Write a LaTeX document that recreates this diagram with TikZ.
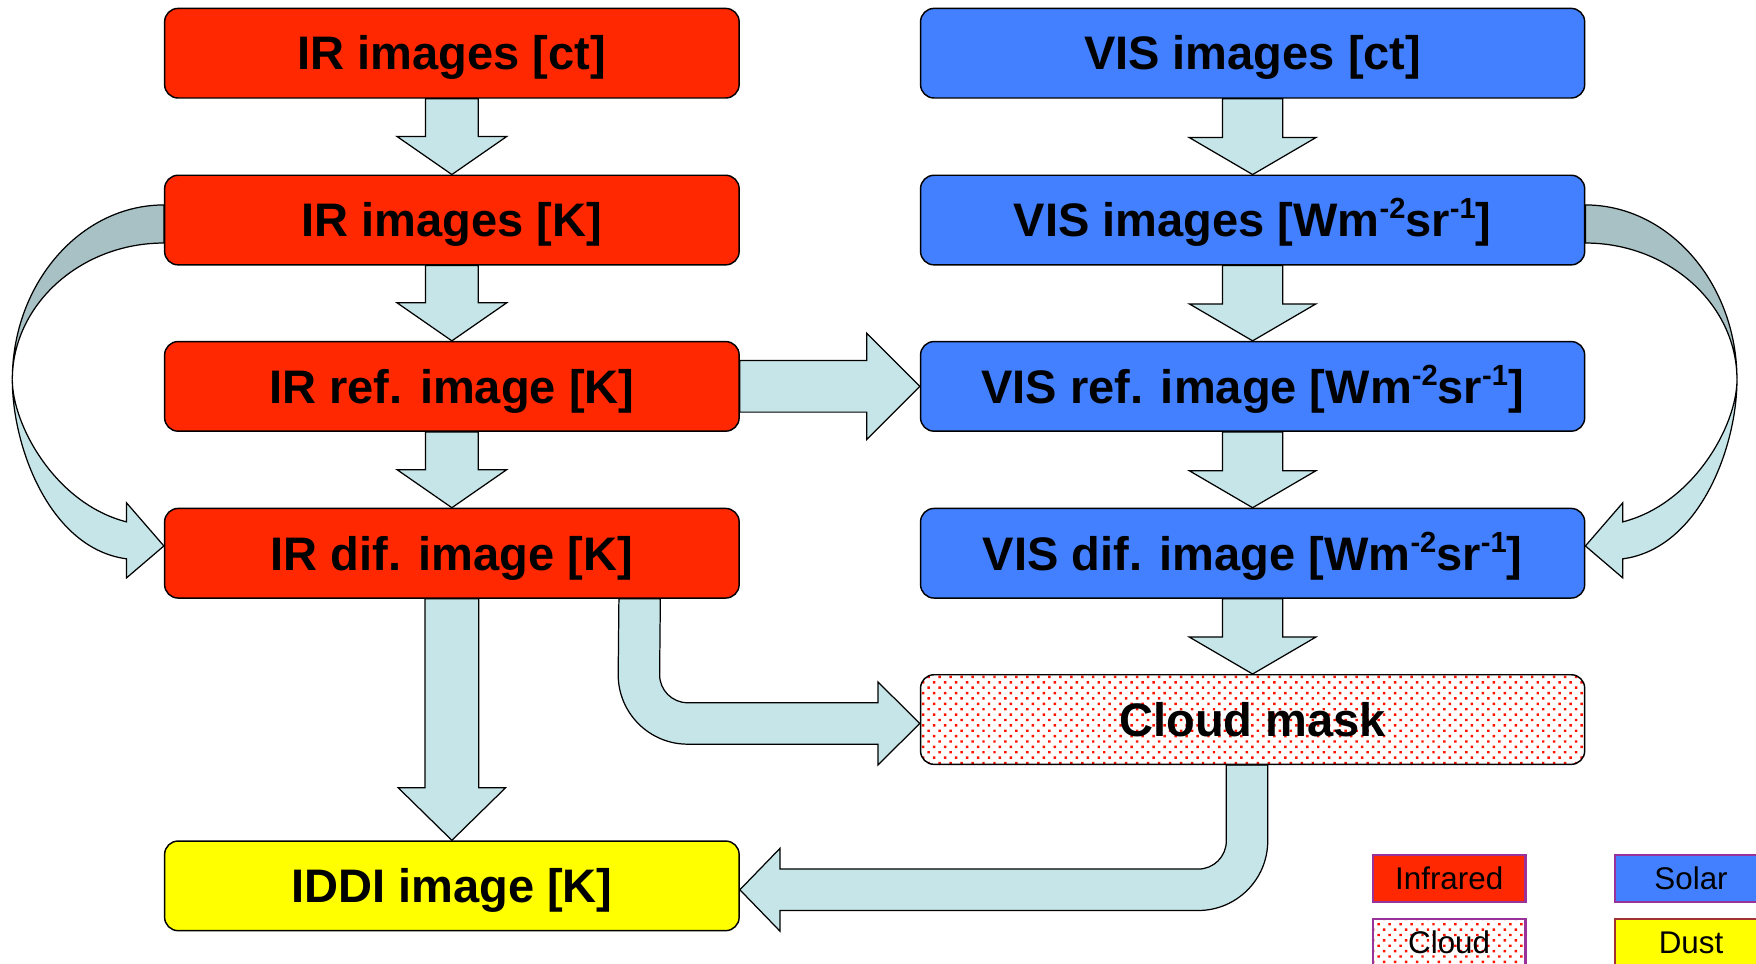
\documentclass[tikz,border=0pt]{standalone}
\usepackage{fontspec}
\setmainfont{Liberation Sans}
\usetikzlibrary{calc,patterns}
\definecolor{irred}{RGB}{255,40,0}
\definecolor{visblue}{RGB}{66,128,255}
\definecolor{dustyellow}{RGB}{255,255,0}
\definecolor{arrowfill}{RGB}{197,229,232}
\definecolor{arrowdark}{RGB}{167,193,196}
\definecolor{legpurple}{RGB}{153,51,153}
\definecolor{legbrown}{RGB}{160,50,50}
\definecolor{dotred}{RGB}{255,20,0}
\pgfdeclarelayer{bg}
\pgfsetlayers{bg,main}
\pgfdeclarepatternformonly{clouddots}{\pgfqpoint{-1pt}{-1pt}}{\pgfqpoint{10pt}{10pt}}{\pgfqpoint{9.8pt}{9.6pt}}{%
  \pgfpathrectangle{\pgfqpoint{0pt}{0pt}}{\pgfqpoint{2.2pt}{2.2pt}}%
  \pgfpathrectangle{\pgfqpoint{4.9pt}{4.8pt}}{\pgfqpoint{2.2pt}{2.2pt}}%
  \pgfusepath{fill}%
}
\newcommand\boxfont{\fontsize{42}{48}\selectfont\bfseries}
\newcommand\legfont{\fontsize{28}{32}\selectfont}
\newcommand\sups[1]{\raisebox{16pt}{\fontsize{26}{26}\selectfont #1}}
% block arrow down: style, from, to, shaft half, head half, head length
\newcommand\arrdown[6]{%
  \draw[#1] let \p1=(#2.south), \p2=(#3.north) in
    (\x1-#4pt,\y1) -- (\x1+#4pt,\y1) -- (\x1+#4pt,\y2+#6pt) -- (\x1+#5pt,\y2+#6pt)
    -- (\x1,\y2) -- (\x1-#5pt,\y2+#6pt) -- (\x1-#4pt,\y2+#6pt) -- cycle;}
% block arrow right
\newcommand\arrright[6]{%
  \draw[#1] let \p1=(#2.east), \p2=(#3.west) in
    (\x1,\y1+#4pt) -- (\x2-#6pt,\y1+#4pt) -- (\x2-#6pt,\y1+#5pt) -- (\x2,\y1)
    -- (\x2-#6pt,\y1-#5pt) -- (\x2-#6pt,\y1-#4pt) -- (\x1,\y1-#4pt) -- cycle;}
\tikzset{
  box/.style={draw=black, line width=1.3pt, rounded corners=12pt,
    minimum width=513pt, minimum height=80pt, inner sep=0pt,
    text height=30pt, text depth=0pt, font=\boxfont},
  irbox/.style={box, fill=irred},
  visbox/.style={box, fill=visblue, minimum width=593pt},
  blk/.style={draw=black, line width=1.1pt, fill=arrowfill, line join=miter},
  leg/.style={draw=legpurple, line width=2.4pt, minimum width=136pt,
    minimum height=42pt, inner sep=0pt, text height=20pt, text depth=0pt,
    font=\legfont},
}
\begin{document}
\begin{tikzpicture}[x=1pt,y=-1pt]
\useasboundingbox (0,0) rectangle (1568,860);

% main boxes
\node[irbox] (ir1) at (403.5,47.5) {IR images [ct]};
\node[irbox] (ir2) at (403.5,196.5) {IR images [K]};
\node[irbox] (ir3) at (403.5,345) {IR ref. image [K]};
\node[irbox] (ir4) at (403.5,494) {IR dif. image [K]};
\node[box, fill=dustyellow] (iddi) at (403.5,791) {IDDI image [K]};

\node[visbox] (vis1) at (1118.5,47.5) {VIS images [ct]};
\node[visbox] (vis2) at (1118.5,196.5) {VIS images [Wm\sups{-2}sr\sups{-1}]};
\node[visbox] (vis3) at (1118.5,345) {VIS ref. image [Wm\sups{-2}sr\sups{-1}]};
\node[visbox] (vis4) at (1118.5,494) {VIS dif. image [Wm\sups{-2}sr\sups{-1}]};
\node[box, minimum width=593pt, pattern=clouddots, pattern color=dotred] (cloud) at (1118.5,642.5) {Cloud mask};

% legend
\node[leg, fill=irred] (lir) at (1294,784.5) {Infrared};
\node[leg, fill=visblue] (lsol) at (1510,784.5) {Solar};
\node[leg, pattern=clouddots, pattern color=dotred] (lcl) at (1294,841.5) {Cloud};
\node[leg, fill=dustyellow, draw=legbrown] (ldu) at (1510,841.5) {Dust};

\begin{pgfonlayer}{bg}
% straight down arrows
\arrdown{blk}{ir1}{ir2}{23.5}{49}{34}
\arrdown{blk}{ir2}{ir3}{23.5}{49}{34}
\arrdown{blk}{ir3}{ir4}{23.5}{49}{34}
\arrdown{blk}{ir4}{iddi}{24}{48}{47}
\arrdown{blk}{vis1}{vis2}{27}{56.5}{33}
\arrdown{blk}{vis2}{vis3}{27}{56.5}{33}
\arrdown{blk}{vis3}{vis4}{27}{56.5}{33}
\arrdown{blk}{vis4}{cloud}{27}{56.5}{33}
% horizontal arrow
\arrright{blk}{ir3}{vis3}{23}{47.5}{47.5}

% bent arrow IR dif -> cloud mask
\draw[blk] ($(ir4.south east)+(-108,0)$) -- (552,602.5)
  .. controls (552,636.7) and (579.8,664.5) .. (614,664.5) -- (784,664.5) -- (784,683)
  -- ($(cloud.west)+(0,3.5)$) -- (784,609) -- (784,627.5) -- (614,627.5)
  .. controls (600.2,627.5) and (589,616.3) .. (589,602.5) -- ($(ir4.south east)+(-71,0)$) -- cycle;

% bent arrow cloud mask -> IDDI
\draw[blk] ($(cloud.south)+(-23.5,0)$) -- (1095,751)
  .. controls (1095,764.8) and (1083.8,776) .. (1070,776) -- (696.5,776) -- (696.5,757.5)
  -- ($(iddi.east)+(0,3.5)$) -- (696.5,831.5) -- (696.5,813) -- (1070,813)
  .. controls (1104.2,813) and (1132,785.2) .. (1132,751) -- ($(cloud.south)+(13.5,0)$) -- cycle;

% curved arrow left: IR images [K] -> IR dif. image [K]
\draw[blk, fill=arrowdark] ($(ir2.west)+(0,-13.5)$) .. controls (72,183) and (11,253) .. (11,339)
  .. controls (11,272) and (72,217) .. ($(ir2.west)+(0,20.5)$) -- cycle;
\draw[blk] (11,339) .. controls (11,400) and (45,490) .. (113,499) -- (113,516)
  -- ($(ir4.west)+(0,-6.5)$) -- (113,449) -- (113,466)
  .. controls (50,450) and (11,380) .. (11,339) -- cycle;

% curved arrow right: VIS images -> VIS dif. image
\draw[blk, fill=arrowdark] ($(vis2.east)+(0,-13.5)$) .. controls (1490,183) and (1551,253) .. (1551,339)
  .. controls (1551,272) and (1490,217) .. ($(vis2.east)+(0,20.5)$) -- cycle;
\draw[blk] (1551,339) .. controls (1551,400) and (1517,490) .. (1449,499) -- (1449,516)
  -- ($(vis4.east)+(0,-6.5)$) -- (1449,449) -- (1449,466)
  .. controls (1512,450) and (1551,380) .. (1551,339) -- cycle;
\end{pgfonlayer}
\end{tikzpicture}
\end{document}
